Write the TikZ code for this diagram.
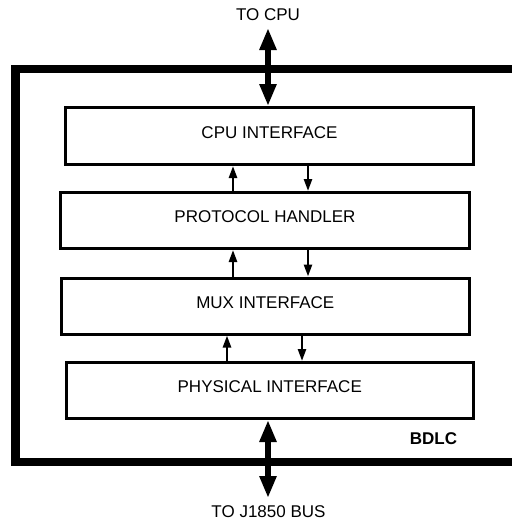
\documentclass[tikz,border=0pt]{standalone}
\usepackage{fontspec}
\setmainfont{Liberation Sans}
\usetikzlibrary{arrows.meta}
\begin{document}
\begin{tikzpicture}[x=1pt,y=-1pt,
  blk/.style={draw, line width=3pt, inner sep=0pt, text height=12.5pt, text depth=8pt, font=\fontsize{17}{20}\selectfont},
  sarrow/.style={line width=2.5pt, -{Triangle[length=12pt,width=8pt]}},
  bigarrow/.style={line width=6pt, {Triangle[length=22pt,width=16pt]}-{Triangle[length=22pt,width=16pt]}},
  outerline/.style={line width=8.5pt, line join=miter},
  lbl/.style={inner sep=0pt, font=\fontsize{17}{20}\selectfont}]
\useasboundingbox (0,0) rectangle (512,523);
% outer BDLC frame (open on the right)
\draw[outerline] (512,69) -- (15.5,69) -- (15.5,462) -- (512,462);
% blocks
\node[blk, minimum width=408pt, minimum height=57pt] (cpu) at (269.5,136) {CPU INTERFACE};
\node[blk, minimum width=409pt, minimum height=56pt] (proto) at (265,220.5) {PROTOCOL HANDLER};
\node[blk, minimum width=408.5pt, minimum height=56pt] (mux) at (265.25,306) {MUX INTERFACE};
\node[blk, minimum width=407.5pt, minimum height=56pt] (phys) at (269.75,390.5) {PHYSICAL INTERFACE};
% labels
\node[lbl] (tocpu) at (268,14.5) {TO CPU};
\node[lbl] (tobus) at (268.5,511.5) {TO J1850 BUS};
\node[lbl, font=\fontsize{17}{20}\selectfont\bfseries] (bdlc) at (433.5,438.5) {BDLC};
% reference coordinates
\coordinate (ua) at (233,0);
\coordinate (da) at (308,0);
\coordinate (ub) at (227,0);
\coordinate (db) at (302,0);
\coordinate (toptip) at (268,28);
\coordinate (bottip) at (268,498);
% big bidirectional arrows
\draw[bigarrow] (toptip) -- (cpu.north -| toptip);
\draw[bigarrow] (phys.south -| bottip) -- (bottip);
% internal arrows
\draw[sarrow] (proto.north -| ua) -- (cpu.south -| ua);
\draw[sarrow] (cpu.south -| da) -- (proto.north -| da);
\draw[sarrow] (mux.north -| ua) -- (proto.south -| ua);
\draw[sarrow] (proto.south -| da) -- (mux.north -| da);
\draw[sarrow] (phys.north -| ub) -- (mux.south -| ub);
\draw[sarrow] (mux.south -| db) -- (phys.north -| db);
\end{tikzpicture}
\end{document}
